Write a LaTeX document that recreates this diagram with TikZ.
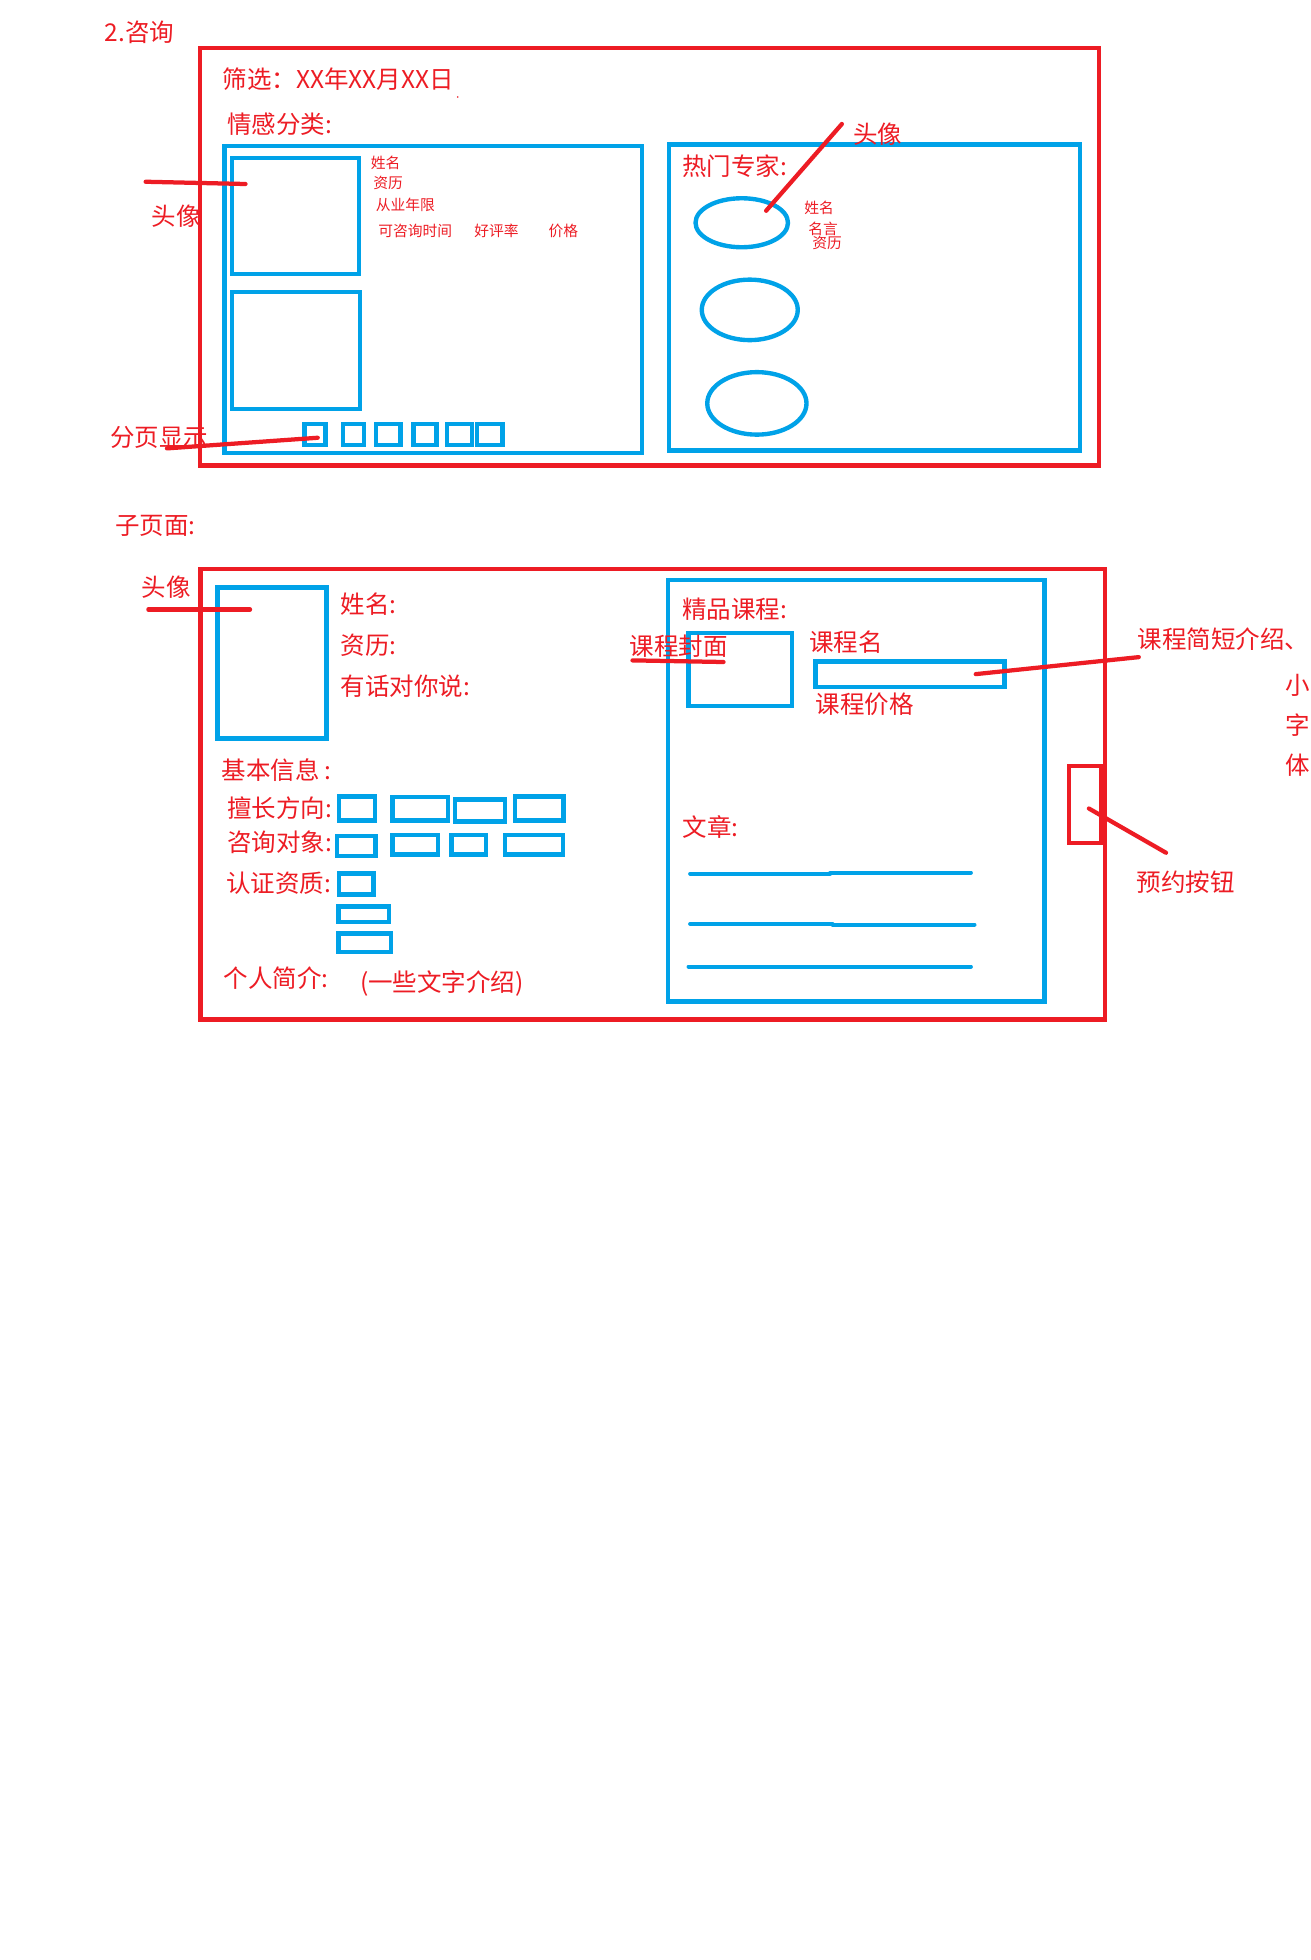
\documentclass[tikz,border=0pt]{standalone}
\usepackage{fontspec}
\newfontfamily\cjk{Noto Sans CJK SC}
\usetikzlibrary{shapes.geometric,fit}
\definecolor{pred}{HTML}{ED1C24}
\definecolor{pblue}{HTML}{00A2E8}

\begin{document}
\begin{tikzpicture}[x=1pt,y=-1pt,
  redframe/.style={draw=pred, line width=3.5pt, inner sep=0pt, outer sep=0pt},
  bluebox/.style={draw=pblue, line width=3.5pt, inner sep=0pt, outer sep=0pt},
  oval/.style={ellipse, draw=pblue, line width=3.5pt, inner sep=0pt, outer sep=0pt},
  lbl/.style={text=pred, font=\cjk\fontsize{19.6}{20}\selectfont, inner sep=0pt, anchor=west},
  tiny/.style={text=pred, font=\cjk\fontsize{11.8}{12}\selectfont, inner sep=0pt, anchor=west},
  pointer/.style={draw=pred, line width=3.4pt, line cap=round},
  textline/.style={draw=pblue, line width=3.2pt, line cap=round},
]
\useasboundingbox[fill=white] (0,0) rectangle (1048.8,1568);

% ---------- 2. consultation page ----------
\node[lbl] (title1) at (83.5,26) {2.咨询};
\node[redframe, fit={(159.9,38.3) (879.4,372.5)}] (page1) {};
\node[lbl] (filter) at (178,63.3) {筛选：XX年XX月XX日};
\fill[pred] (366.2,77.6) circle (0.7);
\node[lbl] (category) at (181.5,99.3) {情感分类:};

% consultant list
\node[bluebox, fit={(179.6,117) (513.4,362.3)}] (listpanel) {};
\node[bluebox, fit={(185.5,126.2) (287,219.2)}] (av1) {};
\node[bluebox, fit={(185.5,233.6) (288,327.3)}] (av2) {};
\node[tiny] (nm1) at (296.5,130.4) {姓名};
\node[tiny] (ql1) at (298.5,146.4) {资历};
\node[tiny] (yr1) at (300.5,164.2) {从业年限};
\node[tiny] (tm1) at (302.5,185) {可咨询时间};
\node[tiny] (rt1) at (379.2,185) {好评率};
\node[tiny] (pr1) at (438.6,185) {价格};

% pagination
\node[bluebox, fit={(243.7,339.2) (260.4,356.1)}] (pg1) {};
\node[bluebox, fit={(274.4,339.2) (291.1,356.1)}] (pg2) {};
\node[bluebox, fit={(301,339.2) (320.4,356.1)}] (pg3) {};
\node[bluebox, fit={(330.7,339.2) (349.2,356.1)}] (pg4) {};
\node[bluebox, fit={(357.8,339.2) (377.5,356.1)}] (pg5) {};
\node[bluebox, fit={(381.8,339.2) (402,356.1)}] (pg6) {};

% popular experts
\node[bluebox, fit={(535.4,115.6) (864,360.3)}] (expertpanel) {};
\node[lbl] (experts) at (545.5,132.7) {热门专家:};
\node[oval, minimum width=74pt, minimum height=39.2pt] (e1) at (593.4,178.2) {};
\node[oval, minimum width=76.8pt, minimum height=48.4pt] (e2) at (599.8,247.9) {};
\node[oval, minimum width=79.4pt, minimum height=50pt] (e3) at (605.5,322.7) {};
\node[tiny] (enm) at (643.2,166.3) {姓名};
\node[tiny] (emt) at (646.5,182.7) {名言};
\node[tiny] (eql) at (649.7,194.7) {资历};

% annotations
\node[lbl] (avlabel1) at (121,173) {头像};
\coordinate (a1s) at (116.5,145.4);
\coordinate (a1e) at (196.4,147.2);
\draw[pointer] (a1s) -- (a1e);
\node[lbl] (pagelabel) at (88,350) {分页显示};
\coordinate (a2s) at (133.6,358.7);
\coordinate (a2e) at (254.2,350.2);
\draw[pointer] (a2s) -- (a2e);
\node[lbl] (avlabel2) at (682.5,107.7) {头像};
\coordinate (a3s) at (673.5,99.2);
\coordinate (a3e) at (612.9,168.6);
\draw[pointer] (a3s) -- (a3e);

% ---------- sub page ----------
\node[lbl] (title2) at (92,421) {子页面:};
\node[redframe, fit={(160.4,455) (884.2,815.7)}] (page2) {};
\node[lbl] (avlabel3) at (113,469.8) {头像};
\node[bluebox, fit={(174,470) (261.3,590.8)}] (photo) {};
\coordinate (a4s) at (118.7,487.6);
\coordinate (a4e) at (200,487.6);
\draw[pointer] (a4s) -- (a4e);
\node[lbl] (name) at (272.5,483.4) {姓名:};
\node[lbl] (quali) at (272.5,516) {资历:};
\node[lbl] (words) at (272.5,549) {有话对你说:};

\node[lbl] (basic) at (177,616) {基本信息 :};
\node[lbl] (field) at (181.6,646.8) {擅长方向:};
\node[lbl] (target) at (181.6,674) {咨询对象:};
\node[lbl] (cert) at (180.7,706.8) {认证资质:};
\node[lbl] (intro) at (178.6,782.8) {个人简介:};
\node[lbl] (introtext) at (287.9,786.8) {(一些文字介绍)};

\node[bluebox, fit={(271.3,637.2) (299.8,656.4)}] (f1) {};
\node[bluebox, fit={(313.9,637.7) (358.6,656.4)}] (f2) {};
\node[bluebox, fit={(364.2,639.6) (403.9,657.2)}] (f3) {};
\node[bluebox, fit={(412.2,637.2) (450.8,656.4)}] (f4) {};
\node[bluebox, fit={(269.8,668.6) (300.5,684.9)}] (t1) {};
\node[bluebox, fit={(313.9,667.8) (350.4,683.6)}] (t2) {};
\node[bluebox, fit={(361.1,667.8) (388.7,683.6)}] (t3) {};
\node[bluebox, fit={(404.2,667.8) (450.2,683.6)}] (t4) {};
\node[bluebox, fit={(271.3,698.8) (298.9,715.6)}] (c1) {};
\node[bluebox, fit={(270.8,725.2) (311.2,737.7)}] (c2) {};
\node[bluebox, fit={(270.8,746.8) (312.7,761.7)}] (c3) {};

% courses and articles
\node[bluebox, fit={(534.4,463.8) (835.5,801.1)}] (coursepanel) {};
\node[lbl] (courses) at (545.4,487.4) {精品课程:};
\node[bluebox, fit={(550.7,506.5) (633.4,564.9)}] (cover) {};
\node[lbl] (coverlabel) at (503.5,516.7) {课程封面};
\coordinate (a5s) at (506,528.3);
\coordinate (a5e) at (578.8,529.6);
\draw[pointer] (a5s) -- (a5e);
\node[lbl] (cname) at (647.3,513.8) {课程名};
\node[bluebox, fit={(652.5,529.2) (803.5,549.7)}] (cbar) {};
\node[lbl] (cprice) at (652.5,563.8) {课程价格};
\node[lbl] (cdesc) at (909.8,511.5) {课程简短介绍、};
\coordinate (a6s) at (780.6,539.3);
\coordinate (a6e) at (911,525.7);
\draw[pointer] (a6s) -- (a6e);
\node[lbl, anchor=center] (v1) at (1037.9,548) {小};
\node[lbl, anchor=center] (v2) at (1037.9,579.7) {字};
\node[lbl, anchor=center] (v3) at (1037.9,612) {体};

\node[redframe, fit={(855,612.6) (881,674.2)}] (book) {};
\coordinate (a7s) at (871.1,646.8);
\coordinate (a7e) at (932.8,682.2);
\draw[pointer] (a7s) -- (a7e);
\node[lbl] (booklabel) at (909,706) {预约按钮};

\node[lbl] (articles) at (546,661.5) {文章:};
\draw[textline] (552.1,698.8) -- (664.1,698.8);
\draw[textline] (664.1,698) -- (776.7,698);
\draw[textline] (552.1,739.1) -- (666,739.1);
\draw[textline] (666,739.6) -- (779.6,739.6);
\draw[textline] (550.8,773.2) -- (776.7,773.2);
\end{tikzpicture}
\end{document}
